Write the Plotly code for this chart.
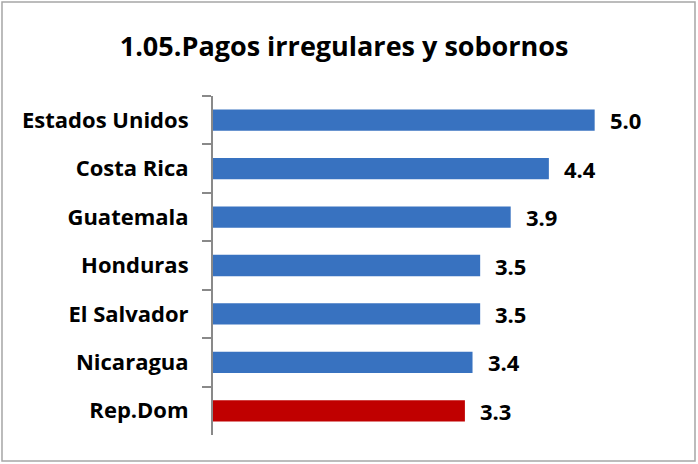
import plotly.graph_objects as go

paises = ["Estados Unidos", "Costa Rica", "Guatemala", "Honduras",
          "El Salvador", "Nicaragua", "Rep.Dom"]
valores = [5.0, 4.4, 3.9, 3.5, 3.5, 3.4, 3.3]
colores = ["#3872c0"] * 6 + ["#c00000"]

fig = go.Figure(go.Bar(
    x=valores,
    y=paises,
    orientation="h",
    marker=dict(color=colores, line=dict(width=0)),
    width=0.44,
    hoverinfo="skip",
))

# etiquetas de valor a la derecha de cada barra
for p, v in zip(paises, valores):
    fig.add_annotation(x=v, y=p, text=f"<b>{v:.1f}</b>", showarrow=False,
                       xanchor="left", xshift=13,
                       font=dict(family="Open Sans", size=22, color="black"))

fig.update_layout(
    width=698, height=464,
    margin=dict(l=213, r=27, t=96, b=29, autoexpand=False),
    paper_bgcolor="white", plot_bgcolor="white",
    showlegend=False,
    title=dict(text="<b>1.05.Pagos irregulares y sobornos</b>",
               x=0.493, xanchor="center", y=0.9, yanchor="middle",
               font=dict(family="Open Sans", size=27, color="black")),
    xaxis=dict(range=[0, 6], visible=False, fixedrange=True, automargin=False),
    yaxis=dict(categoryorder="array", categoryarray=paises, autorange="reversed",
               automargin=False, fixedrange=True,
               showline=True, linecolor="#898989", linewidth=2,
               ticks="outside", tickson="boundaries", ticklen=9, tickcolor="#898989",
               tickwidth=2, showgrid=False, ticklabelstandoff=18,
               tickfont=dict(family="Open Sans", size=22, color="black", weight="bold")),
    shapes=[dict(type="rect", xref="paper", yref="paper",
                 x0=-0.4607, x1=1.0524, y0=-0.0767, y1=1.2773,
                 line=dict(color="#a6a6a6", width=1.5))],
)

fig.write_html("out.html", config={"displayModeBar": False},
               post_script="document.body.style.margin='0';")
